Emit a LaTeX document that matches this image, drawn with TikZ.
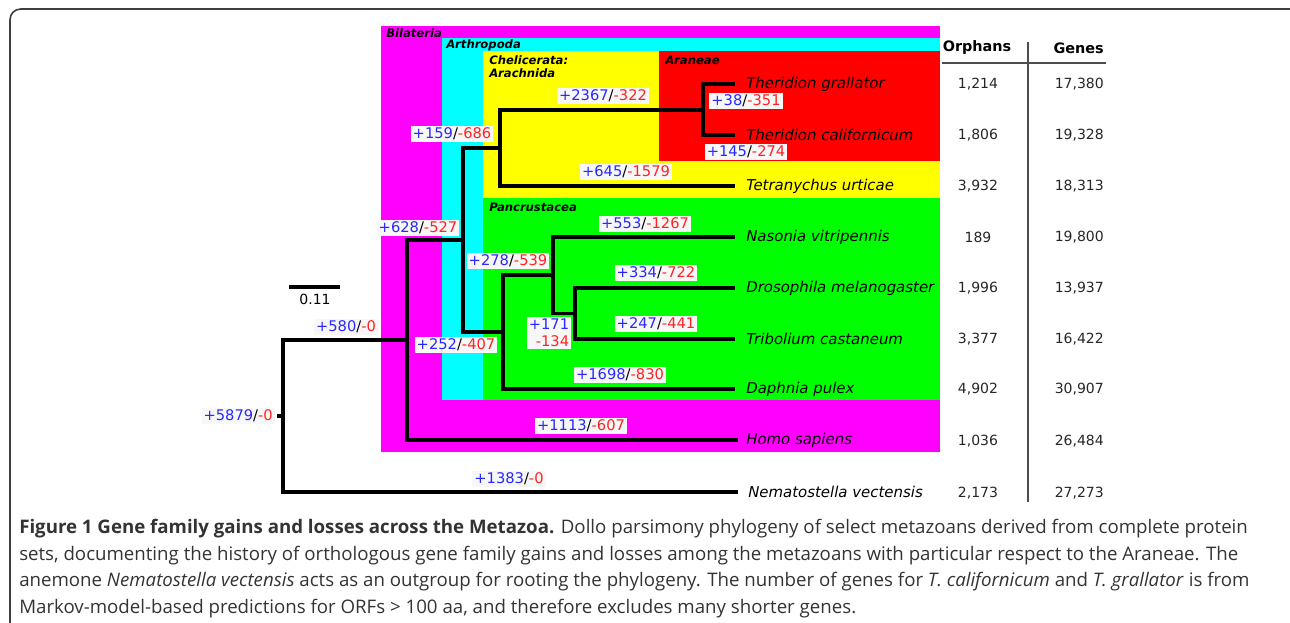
\documentclass[tikz,border=0pt]{standalone}
\usepackage{fontspec}
\setmainfont{DejaVu Sans}
\newfontfamily\capfont{Open Sans}
\definecolor{gainblue}{RGB}{40,40,255}
\definecolor{lossred}{RGB}{255,35,35}
\definecolor{bilmag}{RGB}{255,0,255}
\definecolor{artcyan}{RGB}{0,255,255}
\definecolor{cheyel}{RGB}{255,255,0}
\definecolor{arared}{RGB}{255,0,0}
\definecolor{pangreen}{RGB}{0,255,0}
\newcommand{\gainloss}[2]{\textcolor{gainblue}{+#1}/\textcolor{lossred}{-#2}}
\tikzset{
  branch/.style={line width=2.3pt},
  glabel/.style={fill=white!97!black, inner sep=1.5pt, font=\fontsize{11}{13}\selectfont},
  taxon/.style={anchor=west, inner sep=0pt, font=\fontsize{11.2}{13}\selectfont\itshape},
  clade/.style={anchor=west, inner sep=0pt, font=\fontsize{8.7}{10}\selectfont\bfseries\itshape},
  cell/.style={inner sep=0pt, font=\fontsize{10.5}{12}\selectfont, text=black!85},
  head/.style={inner sep=0pt, font=\fontsize{10.8}{13}\selectfont\bfseries},
  capline/.style={anchor=base west, inner sep=0pt, font=\capfont\fontsize{14}{17}\selectfont, text=black!80},
}
\begin{document}
\begin{tikzpicture}[x=0.75pt,y=0.75pt,yscale=-1,xscale=1]
	\useasboundingbox (0,0) rectangle (1290,622);

	%Frame
	\draw [black!75, line width=1.2pt, rounded corners=8] (10,9) rectangle (1320,660);

	%Clade boxes
	\fill [bilmag] (381,26) rectangle (940,452);
	\fill [artcyan] (442,38) rectangle (940,400);
	\fill [cheyel] (483,51) rectangle (940,198);
	\fill [arared] (659,51) rectangle (940,161);
	\fill [pangreen] (483,198) rectangle (940,400);

	% Clade labels
	\node [clade] (lbil) at (386,33) {Bilateria};
	\node [clade] (lart) at (446,45) {Arthropoda};
	\node [clade] (lche) at (489,60) {Chelicerata:};
	\node [clade] (lach) at (489,73) {Arachnida};
	\node [clade] (lara) at (665,60) {Araneae};
	\node [clade] (lpan) at (489,207) {Pancrustacea};

	%Internal nodes
	\coordinate (root) at (283,416);
	\coordinate (stub) at (277,416);
	\coordinate (bil) at (407,340);
	\coordinate (art) at (463,240);
	\coordinate (che) at (500,148);
	\coordinate (ara) at (703,110);
	\coordinate (pan) at (503,332);
	\coordinate (ins) at (553,275);
	\coordinate (hol) at (575,313.5);

	%Tips
	\coordinate (tgra) at (735,84);
	\coordinate (tcal) at (735,135);
	\coordinate (tetr) at (735,186);
	\coordinate (naso) at (735,237);
	\coordinate (dros) at (735,288);
	\coordinate (trib) at (735,339);
	\coordinate (daph) at (735,389);
	\coordinate (homo) at (738,440);
	\coordinate (nema) at (738,492);

	%Branches
	\draw [branch] (stub) -- (root);
	\draw [branch] (bil) -| (root) |- (nema);
	\draw [branch] (art) -| (bil) |- (homo);
	\draw [branch] (che) -| (art) |- (pan);
	\draw [branch] (ara) -| (che) |- (tetr);
	\draw [branch] (tgra) -| (ara) |- (tcal);
	\draw [branch] (ins) -| (pan) |- (daph);
	\draw [branch] (naso) -| (ins) |- (hol);
	\draw [branch] (dros) -| (hol) |- (trib);

	% Taxon names
	\node [taxon] (ntgra) at (746,84) {Theridion grallator};
	\node [taxon] (ntcal) at (746,135) {Theridion californicum};
	\node [taxon] (ntetr) at (746,186) {Tetranychus urticae};
	\node [taxon] (nnaso) at (746,237) {Nasonia vitripennis};
	\node [taxon] (ndros) at (746,288) {Drosophila melanogaster};
	\node [taxon] (ntrib) at (746,339) {Tribolium castaneum};
	\node [taxon] (ndaph) at (746,389) {Daphnia pulex};
	\node [taxon] (nhomo) at (746,440) {Homo sapiens};
	\node [taxon] (nnema) at (748,492) {Nematostella vectensis};

	% Gains and losses
	\node [glabel, anchor=east] (groot) at (275,416) {\gainloss{5879}{0}};
	\node [glabel] (gbil) at (346,327) {\gainloss{580}{0}};
	\node [glabel] (gart) at (418,228) {\gainloss{628}{527}};
	\node [glabel] (gche) at (452,134) {\gainloss{159}{686}};
	\node [glabel] (gara) at (603,96) {\gainloss{2367}{322}};
	\node [glabel] (gtgra) at (746,101) {\gainloss{38}{351}};
	\node [glabel] (gtcal) at (746,152) {\gainloss{145}{274}};
	\node [glabel] (gtetr) at (626,172) {\gainloss{645}{1579}};
	\node [glabel] (gpan) at (456,345) {\gainloss{252}{407}};
	\node [glabel] (gins) at (508,261) {\gainloss{278}{539}};
	\node [glabel] (gnaso) at (645,224) {\gainloss{553}{1267}};
	\node [glabel, align=right] (ghol) at (549,333) {\textcolor{gainblue}{+171}\\\textcolor{lossred}{-134}};
	\node [glabel] (gdros) at (656,273) {\gainloss{334}{722}};
	\node [glabel] (gtrib) at (656,324) {\gainloss{247}{441}};
	\node [glabel] (gdaph) at (620,375) {\gainloss{1698}{830}};
	\node [glabel] (ghomo) at (581,426) {\gainloss{1113}{607}};
	\node [glabel] (gnema) at (509,479) {\gainloss{1383}{0}};

	%Scale bar
	\coordinate (sbl) at (289,287);
	\coordinate (sbr) at (340,287);
	\draw [branch] (sbl) -- (sbr);
	\node [cell, text=black] (sblab) at (315,299) {0.11};

	%Table
	\node [head] (horph) at (977,48) {Orphans};
	\node [head, anchor=east] (hgene) at (1104,48) {Genes};
	\coordinate (rulel) at (942,63);
	\coordinate (ruler) at (1106,63);
	\coordinate (colt) at (1028,42);
	\coordinate (colb) at (1028,502);
	\draw [black!70, line width=1.1pt] (rulel) -- (ruler);
	\draw [black!70, line width=1.1pt] (colt) -- (colb);
	\foreach \y/\orph/\gene [count=\i] in {84/{1,214}/{17,380}, 135/{1,806}/{19,328}, 186/{3,932}/{18,313}, 237/189/{19,800}, 288/{1,996}/{13,937}, 339/{3,377}/{16,422}, 389/{4,902}/{30,907}, 441/{1,036}/{26,484}, 493/{2,173}/{27,273}}
	{
		\node [cell] (orph\i) at (978,\y) {\orph};
		\node [cell, anchor=east] (gene\i) at (1104,\y) {\gene};
	}

	% Caption
	\node [capline] (cap1) at (19,533.5) {\textbf{Figure 1 Gene family gains and losses across the Metazoa.} Dollo parsimony phylogeny of select metazoans derived from complete protein};
	\node [capline] (cap2) at (19,560) {sets, documenting the history of orthologous gene family gains and losses among the metazoans with particular respect to the Araneae. The};
	\node [capline] (cap3) at (19,586.5) {anemone \textit{Nematostella vectensis} acts as an outgroup for rooting the phylogeny. The number of genes for \textit{T. californicum} and \textit{T. grallator} is from};
	\node [capline] (cap4) at (19,613) {Markov-model-based predictions for ORFs > 100 aa, and therefore excludes many shorter genes.};

	\end{tikzpicture}
\end{document}
